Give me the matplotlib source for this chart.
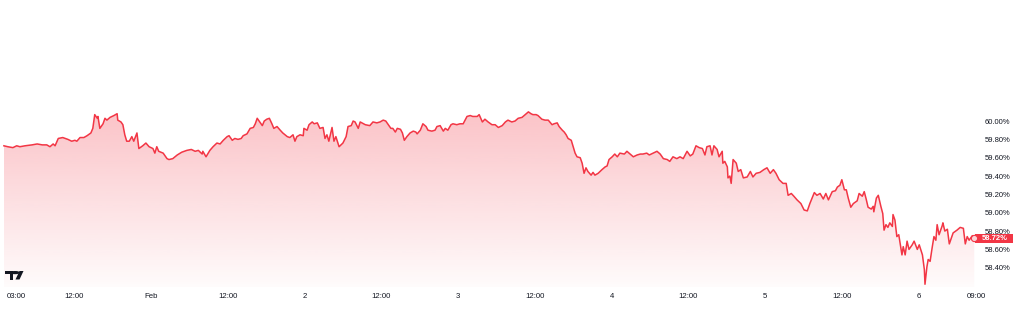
import matplotlib
matplotlib.use("Agg")
import matplotlib.pyplot as plt
import matplotlib.dates as mdates
import matplotlib.transforms as mtransforms
from matplotlib.colors import LinearSegmentedColormap
from matplotlib.patches import Rectangle, Polygon, Circle
import numpy as np
import pandas as pd

plt.rcParams['font.family'] = ['Liberation Sans', 'DejaVu Sans']

# hours since 2025-01-31 00:00, value in %
hours = [
    1.0, 1.6, 2.4, 3.0, 3.5, 4.3, 5.4, 6.2, 7.0, 7.7, 8.2, 8.7, 9.0, 9.5, 10.2,
    11.0, 11.6, 12.1, 12.4, 12.9, 13.5, 14.0, 14.6, 14.9, 15.2, 15.6, 15.7, 16.0,
    16.5, 16.8, 17.1, 17.6, 18.2, 18.7, 18.8, 19.3, 19.6, 19.9, 20.2, 20.6, 21.0,
    21.3, 21.8, 22.1, 22.7, 23.2, 23.7, 24.3, 24.6, 24.9, 25.2,
    25.9, 26.5, 26.8, 27.4, 28.1, 28.8, 29.6, 30.3, 30.9, 31.4, 32.0, 32.1, 32.6,
    33.2, 33.7, 34.3, 34.8, 35.3, 35.9, 36.2, 36.7, 37.1, 37.6, 38.1, 38.4, 39.0,
    39.5, 40.0, 40.3, 40.6, 40.9, 41.4, 41.7, 42.1, 42.5, 42.9, 43.2, 43.7, 44.2,
    44.6, 45.3, 45.7, 46.2, 46.5, 46.8, 47.3, 47.8, 47.9, 48.4, 48.7, 49.2, 49.5,
    50.0,
    50.4, 50.9, 51.2, 51.5, 51.8, 52.3, 52.6, 52.9, 53.4, 54.0, 54.5, 54.8, 55.3,
    55.6, 55.9, 56.4, 56.7, 57.5, 58.2, 58.7, 59.3, 59.8, 60.3, 60.7, 61.1, 61.5,
    61.8, 62.2, 62.5, 63.0, 63.3, 63.6, 64.0, 64.5, 65.0, 65.4, 65.6, 66.1, 66.5,
    67.0, 67.3, 67.9, 68.4, 68.7, 69.2, 69.7, 70.0, 70.4, 70.9, 71.2, 71.8, 72.3,
    72.8, 73.4, 73.9, 74.3, 75.0, 75.3, 75.8, 76.2,
    76.7, 77.3, 77.8, 78.3, 78.9, 79.4, 79.8, 80.4, 80.9, 81.4, 82.0, 82.5, 83.0,
    83.4, 83.7, 84.2, 84.5, 85.1, 85.6, 86.1, 86.7, 87.0, 87.5, 87.8, 88.3, 88.6,
    88.9, 89.2, 89.7, 90.0, 90.3, 90.6, 91.1, 91.4, 91.7, 92.0, 92.3, 92.8, 93.1,
    93.4, 93.9, 94.5, 95.0, 95.3, 95.6, 96.1, 96.5, 96.9, 97.3, 98.0, 98.4, 98.9,
    99.4, 100.0,
    100.5, 100.9, 101.5, 101.9, 102.5, 103.1, 103.6, 104.1, 104.7, 105.1, 105.6,
    106.2, 106.7, 107.2, 107.8, 108.3, 108.7, 109.2, 109.7, 110.2, 110.6, 110.9,
    111.4, 111.7, 112.0, 112.5, 112.8, 113.3, 113.4, 113.7, 114.1, 114.2, 114.5,
    114.7, 115.0, 115.5, 115.8, 116.2, 116.6, 117.2, 117.7, 118.1, 118.6, 119.2,
    119.8, 120.3, 120.8, 121.3, 121.7, 122.2, 122.8, 123.3, 123.6, 124.1, 124.5,
    125.0, 125.6, 126.1,
    126.6, 127.0, 127.7, 128.1, 128.6, 129.1, 129.5, 129.9, 130.5, 131.0, 131.3,
    131.7, 132.0, 132.4, 132.7, 133.0, 133.4, 133.8, 134.4, 134.7, 135.2, 135.5,
    135.8, 136.1, 136.6, 136.9, 137.0, 137.4, 137.7, 138.1, 138.4, 138.6, 138.9,
    139.2, 139.5, 139.9, 140.0, 140.3, 140.6, 140.9, 141.4, 141.6, 141.9, 142.2,
    142.5, 143.0, 143.3, 143.8, 144.1, 144.6, 144.9, 145.0, 145.3, 145.5, 145.8,
    146.1, 146.4, 146.7, 146.9, 147.2, 147.7, 147.8, 148.1, 148.5, 148.8, 149.1,
    149.4, 150.0, 150.5, 151.0, 151.3, 151.6, 151.9, 152.4, 152.7,
]

values = [
    59.73, 59.72, 59.71, 59.73, 59.72, 59.73, 59.74, 59.75, 59.74, 59.74, 59.72,
    59.75, 59.73, 59.81, 59.82, 59.80, 59.78, 59.79, 59.78, 59.82, 59.82, 59.84,
    59.87, 59.92, 60.07, 60.03, 60.05, 59.92, 59.97, 60.03, 60.01, 60.04, 60.06,
    60.08, 60.01, 59.99, 59.96, 59.85, 59.78, 59.78, 59.83, 59.78, 59.87, 59.70,
    59.73, 59.76, 59.72, 59.70, 59.65, 59.72, 59.67,
    59.65, 59.59, 59.58, 59.59, 59.63, 59.66, 59.68, 59.69, 59.67, 59.68, 59.64,
    59.67, 59.61, 59.68, 59.72, 59.76, 59.75, 59.79, 59.83, 59.84, 59.79, 59.81,
    59.80, 59.81, 59.84, 59.86, 59.92, 59.93, 59.97, 60.03, 60.00, 59.95, 60.00,
    60.02, 60.03, 59.97, 59.92, 59.94, 59.90, 59.87, 59.83, 59.82, 59.85, 59.78,
    59.83, 59.85, 59.84, 59.92, 59.90, 59.96, 59.99, 59.97, 59.98,
    59.92, 59.93, 59.81, 59.85, 59.78, 59.93, 59.78, 59.83, 59.72, 59.76, 59.83,
    59.94, 59.95, 60.00, 59.99, 59.92, 59.99, 59.96, 59.95, 59.99, 59.98, 59.99,
    60.01, 60.00, 59.96, 59.92, 59.92, 59.88, 59.92, 59.91, 59.87, 59.79, 59.83,
    59.87, 59.89, 59.88, 59.86, 59.90, 59.97, 59.94, 59.90, 59.89, 59.90, 59.94,
    59.95, 59.89, 59.92, 59.90, 59.96, 59.97, 59.96, 59.97, 59.97, 60.05, 60.06,
    60.05, 60.05, 60.07, 59.99, 60.02,
    59.99, 59.96, 59.96, 59.93, 59.95, 59.99, 60.01, 59.99, 60.00, 60.03, 60.04,
    60.07, 60.10, 60.08, 60.07, 60.07, 60.06, 60.02, 60.01, 60.01, 59.96, 59.97,
    59.98, 59.94, 59.90, 59.88, 59.85, 59.81, 59.79, 59.72, 59.65, 59.61, 59.60,
    59.54, 59.43, 59.49, 59.45, 59.41, 59.44, 59.41, 59.43, 59.47, 59.50, 59.51,
    59.58, 59.61, 59.64, 59.61, 59.65, 59.64, 59.67, 59.64, 59.61, 59.63,
    59.64, 59.64, 59.65, 59.63, 59.65, 59.67, 59.64, 59.59, 59.58, 59.56, 59.61,
    59.59, 59.61, 59.59, 59.67, 59.62, 59.64, 59.73, 59.71, 59.70, 59.63, 59.72,
    59.73, 59.63, 59.73, 59.69, 59.61, 59.67, 59.54, 59.56, 59.50, 59.38, 59.40,
    59.32, 59.58, 59.54, 59.45, 59.47, 59.38, 59.39, 59.45, 59.39, 59.43, 59.44,
    59.47, 59.49, 59.43, 59.47, 59.43, 59.36, 59.32, 59.32, 59.19, 59.21, 59.18,
    59.14, 59.10, 59.03,
    59.02, 59.10, 59.22, 59.19, 59.21, 59.15, 59.21, 59.14, 59.23, 59.24, 59.28,
    59.30, 59.36, 59.25, 59.25, 59.16, 59.06, 59.10, 59.13, 59.21, 59.18, 59.23,
    59.15, 59.06, 59.04, 59.07, 59.01, 59.16, 59.19, 59.07, 58.99, 58.81, 58.87,
    58.84, 58.89, 58.85, 58.98, 58.92, 58.74, 58.76, 58.54, 58.63, 58.54, 58.69,
    58.60, 58.65, 58.69, 58.60, 58.65, 58.54, 58.38, 58.22, 58.41, 58.49, 58.47,
    58.61, 58.74, 58.70, 58.87, 58.76, 58.86, 58.89, 58.80, 58.82, 58.66, 58.72,
    58.78, 58.81, 58.84, 58.83, 58.66, 58.74, 58.70, 58.75, 58.72,
]

y_ticks = [58.4, 58.6, 58.8, 59.0, 59.2, 59.4, 59.6, 59.8, 60.0]
x_tick_times = ["2025-01-31 03:00", "2025-01-31 12:00", "2025-02-01 00:00",
                "2025-02-01 12:00", "2025-02-02 00:00", "2025-02-02 12:00",
                "2025-02-03 00:00", "2025-02-03 12:00", "2025-02-04 00:00",
                "2025-02-04 12:00", "2025-02-05 00:00", "2025-02-05 12:00",
                "2025-02-06 00:00", "2025-02-06 09:00"]
x_tick_labels = ["03:00", "12:00", "Feb", "12:00", "2", "12:00", "3", "12:00",
                 "4", "12:00", "5", "12:00", "6", "09:00"]

RED = "#f23645"
TXT = "#131722"

start = pd.Timestamp("2025-01-31 00:00")
times = start + pd.to_timedelta(hours, unit="h")
tnum = mdates.date2num(times.to_pydatetime())

fig = plt.figure(figsize=(10.24, 3.21), dpi=100)
ax = fig.add_axes([0.0, 34 / 321, 980 / 1024, 287 / 321])

ymin, ymax = 58.19, 61.32
xmin = mdates.date2num(start + pd.Timedelta(hours=0.39))
xmax = mdates.date2num(start + pd.Timedelta(hours=153.6))
ax.set_xlim(xmin, xmax)
ax.set_ylim(ymin, ymax)

# gradient area under the line
fill = ax.fill_between(tnum, values, ymin, facecolor="none", edgecolor="none")
cmap = LinearSegmentedColormap.from_list(
    "fade", [(242 / 255, 54 / 255, 69 / 255, 0.02), (242 / 255, 54 / 255, 69 / 255, 0.30)])
grad = np.linspace(0, 1, 256).reshape(-1, 1)
im = ax.imshow(grad, extent=[tnum[0], tnum[-1], ymin, max(values)], origin="lower",
               aspect="auto", cmap=cmap, zorder=1, interpolation="bicubic")
im.set_clip_path(fill.get_paths()[0], transform=ax.transData)

ax.plot(tnum, values, color=RED, lw=1.1, zorder=3, solid_joinstyle="round")
ax.plot(tnum[-1], values[-1], "o", ms=4.5, mfc="#fbd3d6", mec=RED, mew=0.8, zorder=7,
        clip_on=False)

for s in ax.spines.values():
    s.set_visible(False)

ax.yaxis.tick_right()
ax.set_yticks(y_ticks)
ax.set_yticklabels([f"{v:.2f}%" for v in y_ticks])
ax.tick_params(axis="y", length=0, pad=3.6, labelsize=5.5, labelcolor=TXT)

xt = mdates.date2num(pd.to_datetime(x_tick_times).to_pydatetime())
ax.set_xticks(xt)
ax.set_xticklabels(x_tick_labels)
ax.tick_params(axis="x", length=0, pad=4.0, labelsize=5.6, labelcolor=TXT)

# last value tag
trans = mtransforms.blended_transform_factory(ax.transAxes, ax.transData)
ax.add_patch(Rectangle((975 / 980, values[-1] - 0.053), 38 / 980, 0.106,
                       transform=trans, facecolor=RED, edgecolor="none",
                       clip_on=False, zorder=5))
ax.text(995 / 980, values[-1], f"{values[-1]:.2f}%", transform=trans,
        ha="center", va="center", color="white", fontsize=5.5,
        fontweight="bold", zorder=6, clip_on=False)

# TradingView logo
def fx(px):
    return px / 1024

def fy(py):
    return 1 - py / 321

fig.patches.append(Polygon([(fx(5), fy(271)), (fx(12.5), fy(271)), (fx(12.5), fy(279.5)),
                            (fx(9.5), fy(279.5)), (fx(9.5), fy(274)), (fx(5), fy(274))],
                           closed=True, transform=fig.transFigure, facecolor=TXT,
                           edgecolor="none"))
fig.patches.append(Circle((fx(15), fy(272.6)), 1.6 / 321, transform=fig.transFigure,
                          facecolor=TXT, edgecolor="none"))
fig.patches.append(Polygon([(fx(19.5), fy(271)), (fx(23.5), fy(271)), (fx(19.5), fy(279.5)),
                            (fx(15.5), fy(279.5))],
                           closed=True, transform=fig.transFigure, facecolor=TXT,
                           edgecolor="none"))

fig.savefig("out.png", dpi=100, facecolor="white")
